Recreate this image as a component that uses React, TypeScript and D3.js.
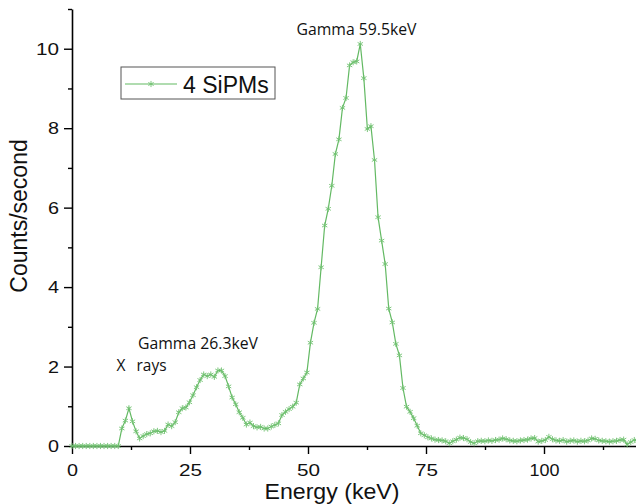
import React, { useRef, useEffect } from 'react';
import * as d3 from 'd3';

// Spectrum, one value per channel (counts/second)
const CHANNEL_KEV = 0.754;
const counts = [
  0, 0, 0, 0, 0, 0, 0, 0, 0, 0, 0, 0, 0, 0,
  0.44, 0.64, 0.95, 0.62, 0.37, 0.19, 0.25, 0.30, 0.32, 0.37,
  0.38, 0.35, 0.38, 0.54, 0.50, 0.60, 0.85, 0.95, 0.97, 1.10,
  1.28, 1.48, 1.66, 1.80, 1.76, 1.80, 1.74, 1.90, 1.90, 1.76,
  1.50, 1.22, 1.05, 0.85, 0.71, 0.54, 0.59, 0.50, 0.47, 0.48,
  0.44, 0.44, 0.49, 0.53, 0.57, 0.78, 0.86, 0.93, 0.99, 1.09,
  1.55, 1.70, 1.85, 2.60, 3.10, 3.45, 4.50, 5.55, 5.97, 6.55,
  7.35, 7.72, 8.51, 8.76, 9.58, 9.66, 9.68, 10.12, 9.26, 7.98,
  8.05, 7.20, 5.76, 5.17, 4.58, 3.46, 3.11, 2.57, 2.28, 1.46,
  0.99, 0.86, 0.70, 0.51, 0.32, 0.27, 0.22, 0.19,
  0.16, 0.15, 0.14, 0.12, 0.07, 0.12, 0.16, 0.21, 0.20, 0.17,
  0.10, 0.07, 0.12, 0.13, 0.12, 0.14, 0.13, 0.15, 0.16, 0.19,
  0.17, 0.14, 0.13, 0.12, 0.14, 0.15, 0.16, 0.19, 0.20, 0.11,
  0.13, 0.15, 0.23, 0.17, 0.14, 0.13, 0.15, 0.11, 0.13, 0.14,
  0.11, 0.13, 0.12, 0.14, 0.19, 0.18, 0.14, 0.13, 0.12, 0.11,
  0.12, 0.13, 0.15, 0.16, 0.04, 0.10, 0.15, 0.13
];

const xMajorTicks = [0, 25, 50, 75, 100];
const xMinorTicks = [12.5, 37.5, 62.5, 87.5, 112.5];
const yMajorTicks = [0, 2, 4, 6, 8, 10];
const yMinorTicks = [1, 3, 5, 7, 9, 11];

const seriesName = '4 SiPMs';
const annotations = [
  { text: 'Gamma 59.5keV', x: 296.5, y: 35, len: 120 },
  { text: 'Gamma 26.3keV', x: 138, y: 349, len: 120 },
  { text: 'X', x: 116.5, y: 370.5, len: 0 },
  { text: 'rays', x: 136.5, y: 370.5, len: 30 }
];

const GREEN_LINE = '#63b963';
const GREEN_MARK = '#72c272';
const FONT = 'Arial, "Liberation Sans", sans-serif';

const App = () => {
  const ref = useRef(null);

  useEffect(() => {
    const svg = d3.select(ref.current);
    svg.selectAll('*').remove();

    const x = d3.scaleLinear().domain([0, 120]).range([72, 638.4]);
    const y = d3.scaleLinear().domain([0, 11]).range([446, 9]);

    const data = counts.map((v, i) => ({ e: i * CHANNEL_KEV, v }));

    const labelWidth = (s) => (s.length === 1 ? 11 : s.length === 2 ? 23 : 30);

    // X axis (major + minor ticks)
    const xAxis = svg.append('g')
      .attr('transform', `translate(0,${y(0)})`)
      .call(d3.axisBottom(x).tickValues(xMajorTicks).tickSize(8).tickSizeOuter(0));
    xAxis.select('.domain').attr('stroke-width', 1.6);
    xAxis.selectAll('.tick line').attr('stroke-width', 1.4);
    xAxis.selectAll('.tick text')
      .attr('y', 30)
      .attr('dy', null)
      .attr('font-family', FONT)
      .attr('font-size', 16)
      .attr('fill', '#111')
      .each(function () {
        const t = d3.select(this);
        t.attr('textLength', labelWidth(t.text())).attr('lengthAdjust', 'spacingAndGlyphs');
      });

    svg.append('g')
      .attr('transform', `translate(0,${y(0)})`)
      .call(d3.axisBottom(x).tickValues(xMinorTicks).tickSize(4).tickFormat(() => ''))
      .call(g => g.select('.domain').remove())
      .selectAll('.tick line').attr('stroke-width', 1.4);

    // Y axis (major + minor ticks)
    const yAxis = svg.append('g')
      .attr('transform', `translate(${x(0)},0)`)
      .call(d3.axisLeft(y).tickValues(yMajorTicks).tickSize(8).tickSizeOuter(0));
    yAxis.select('.domain').attr('stroke-width', 1.6);
    yAxis.selectAll('.tick line').attr('stroke-width', 1.4);
    yAxis.selectAll('.tick text')
      .attr('x', -13)
      .attr('dy', '0.36em')
      .attr('font-family', FONT)
      .attr('font-size', 16)
      .attr('fill', '#111')
      .each(function () {
        const t = d3.select(this);
        t.attr('textLength', labelWidth(t.text())).attr('lengthAdjust', 'spacingAndGlyphs');
      });

    svg.append('g')
      .attr('transform', `translate(${x(0)},0)`)
      .call(d3.axisLeft(y).tickValues(yMinorTicks).tickSize(4).tickFormat(() => ''))
      .call(g => g.select('.domain').remove())
      .selectAll('.tick line').attr('stroke-width', 1.4);

    // Axis titles
    svg.append('text')
      .attr('x', 332)
      .attr('y', 499)
      .attr('text-anchor', 'middle')
      .attr('font-family', FONT)
      .attr('font-size', 22)
      .attr('textLength', 135)
      .attr('lengthAdjust', 'spacingAndGlyphs')
      .attr('fill', '#111')
      .text('Energy (keV)');

    svg.append('text')
      .attr('transform', 'translate(27,216) rotate(-90)')
      .attr('text-anchor', 'middle')
      .attr('font-family', FONT)
      .attr('font-size', 23)
      .attr('fill', '#111')
      .text('Counts/second');

    // Series line + markers
    const line = d3.line().x(d => x(d.e)).y(d => y(d.v));
    svg.append('path')
      .datum(data)
      .attr('fill', 'none')
      .attr('stroke', GREEN_LINE)
      .attr('stroke-width', 1.2)
      .attr('d', line);

    const star = d3.symbol().type(d3.symbolAsterisk).size(26);
    svg.append('g')
      .selectAll('path')
      .data(data)
      .join('path')
      .attr('transform', d => `translate(${x(d.e)},${y(d.v)})`)
      .attr('d', star)
      .attr('fill', 'none')
      .attr('stroke', GREEN_MARK)
      .attr('stroke-width', 0.9);

    // Legend
    const legend = svg.append('g');
    legend.append('rect')
      .attr('x', 121).attr('y', 67)
      .attr('width', 154).attr('height', 32)
      .attr('fill', 'white')
      .attr('stroke', '#555')
      .attr('stroke-width', 1);
    legend.append('line')
      .attr('x1', 125).attr('x2', 177)
      .attr('y1', 84).attr('y2', 84)
      .attr('stroke', GREEN_LINE)
      .attr('stroke-width', 1.2);
    legend.append('path')
      .attr('transform', 'translate(151,84)')
      .attr('d', star)
      .attr('fill', 'none')
      .attr('stroke', GREEN_MARK)
      .attr('stroke-width', 0.9);
    legend.append('text')
      .attr('x', 183)
      .attr('y', 93)
      .attr('font-family', FONT)
      .attr('font-size', 23)
      .attr('fill', '#111')
      .text(seriesName);

    // Peak annotations
    annotations.forEach(a => {
      const t = svg.append('text')
        .attr('x', a.x)
        .attr('y', a.y)
        .attr('font-family', '"Open Sans", "Noto Sans", sans-serif')
        .attr('font-size', 15.5)
        .attr('fill', '#111')
        .text(a.text);
      if (a.len) t.attr('textLength', a.len).attr('lengthAdjust', 'spacingAndGlyphs');
    });
  }, []);

  return (
    <svg
      ref={ref}
      width={636}
      height={504}
      style={{ position: 'absolute', left: 0, top: 0, background: 'white', display: 'block' }}
    />
  );
};

export default App;
